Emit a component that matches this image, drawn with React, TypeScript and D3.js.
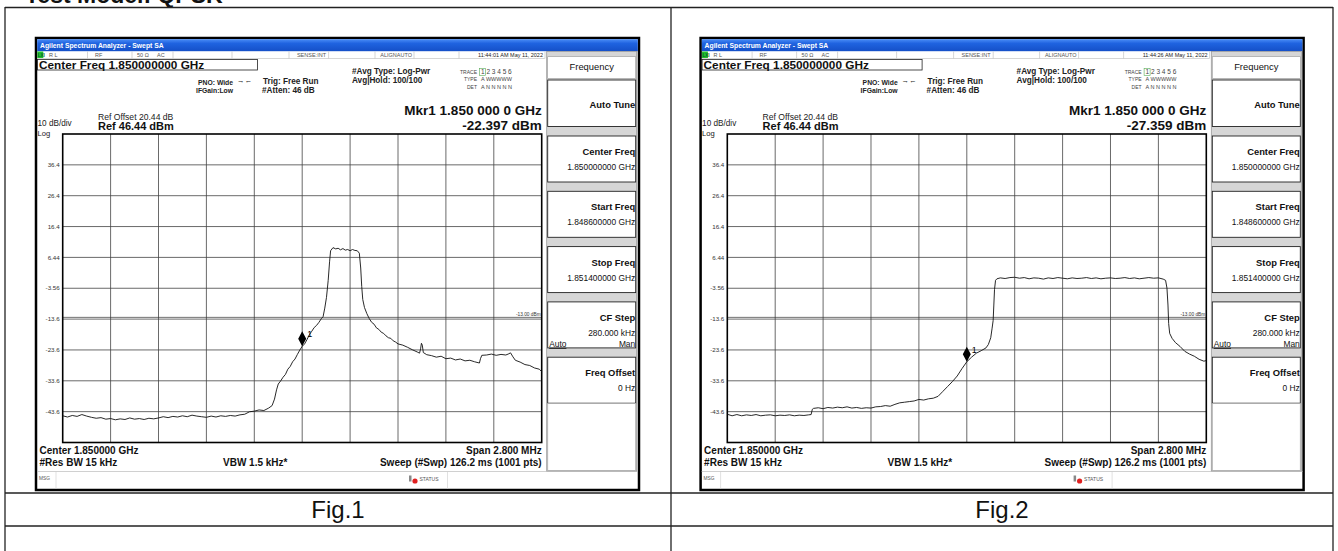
import React from 'react';
import * as d3 from 'd3';

const FONT = 'Liberation Sans, Arial, Helvetica, sans-serif';

// trace points: frequency offset from 1.850 GHz (kHz), level (dBm)
const fig1Trace: [number, number][] = [
  [-1400, -44.9], [-1372, -45.3], [-1344, -44.8], [-1316, -45.1], [-1288, -44.5], [-1260, -45.0],
  [-1232, -45.4], [-1204, -45.7], [-1176, -45.5], [-1148, -46.0], [-1120, -45.8], [-1092, -46.2],
  [-1064, -45.9], [-1036, -46.1], [-1008, -45.6], [-980, -46.0], [-952, -45.8], [-924, -46.1],
  [-896, -45.7], [-868, -45.9], [-840, -45.6], [-812, -45.2], [-784, -45.5], [-756, -45.1],
  [-728, -45.3], [-700, -44.9], [-672, -45.2], [-644, -44.7], [-616, -45.0], [-588, -45.2],
  [-560, -45.4], [-532, -45.0], [-504, -45.3], [-476, -44.9], [-448, -45.1], [-420, -44.8],
  [-392, -45.0], [-364, -44.6], [-336, -44.4], [-308, -43.6], [-280, -43.4], [-252, -43.0],
  [-224, -43.2], [-196, -42.4], [-176, -41.6], [-162, -39.5], [-150, -36.5], [-140, -34.6],
  [-126, -33.6], [-112, -32.4], [-98, -31.5], [-84, -29.8], [-70, -28.9], [-56, -27.4],
  [-42, -26.5], [-28, -25.0], [-14, -23.6], [0, -22.4], [14, -21.6], [28, -20.2], [42, -18.6],
  [56, -17.5], [70, -16.3], [84, -15.6], [98, -14.6], [112, -13.4], [122, -12.8], [132, -10.0],
  [142, -6.5], [152, -1.0], [160, 5.0], [166, 8.6], [180, 9.6], [196, 9.2], [210, 9.4],
  [224, 8.9], [238, 9.3], [252, 8.8], [266, 9.0], [280, 8.6], [294, 9.0], [308, 8.7],
  [322, 8.6], [334, 7.8], [342, 3.0], [348, -3.0], [354, -7.2], [364, -9.8], [378, -11.8],
  [392, -13.4], [406, -14.6], [420, -15.2], [434, -16.4], [448, -16.9], [462, -17.8],
  [476, -18.2], [490, -19.0], [504, -19.6], [518, -19.8], [532, -20.6], [546, -21.0],
  [560, -21.6], [588, -22.0], [616, -22.7], [644, -23.5], [672, -24.2], [686, -24.6],
  [692, -23.2], [697, -21.4], [702, -22.0], [708, -24.4], [728, -25.1], [756, -25.4],
  [784, -25.9], [812, -25.6], [840, -26.4], [868, -26.2], [896, -26.8], [924, -26.5],
  [952, -27.1], [980, -26.9], [1008, -27.4], [1036, -27.8], [1042, -26.4], [1050, -25.3],
  [1078, -25.2], [1106, -24.9], [1134, -25.3], [1162, -25.0], [1190, -25.2], [1204, -24.9],
  [1218, -24.5], [1232, -25.8], [1246, -26.9], [1274, -27.5], [1302, -28.3], [1330, -28.6],
  [1358, -29.4], [1386, -29.8], [1400, -30.6],
];

const fig2Trace: [number, number][] = [
  [-1400, -44.4], [-1372, -44.9], [-1344, -44.5], [-1316, -44.9], [-1288, -44.6], [-1260, -44.8],
  [-1232, -44.5], [-1204, -44.9], [-1176, -44.7], [-1148, -44.6], [-1120, -44.9], [-1092, -44.7],
  [-1064, -44.8], [-1036, -44.6], [-1008, -44.9], [-980, -44.7], [-952, -44.8], [-924, -44.6],
  [-910, -44.5], [-903, -42.8], [-896, -42.5], [-868, -42.3], [-840, -42.6], [-812, -42.2],
  [-784, -42.4], [-756, -42.1], [-728, -42.3], [-700, -42.0], [-672, -42.4], [-644, -42.2],
  [-616, -42.5], [-588, -42.3], [-560, -42.4], [-532, -42.0], [-504, -41.9], [-476, -41.6],
  [-448, -41.8], [-420, -41.2], [-392, -40.7], [-364, -40.5], [-336, -40.3], [-308, -40.1],
  [-280, -39.6], [-252, -39.8], [-224, -39.4], [-196, -39.2], [-168, -38.6], [-140, -37.0],
  [-112, -35.4], [-84, -33.8], [-56, -32.0], [-28, -29.6], [0, -27.4], [28, -25.9], [56, -24.6],
  [84, -23.8], [112, -22.9], [126, -21.8], [140, -19.6], [148, -16.5], [154, -14.0],
  [158, -9.0], [162, -4.0], [168, -1.0], [176, -0.5], [196, -0.2], [224, -0.4], [252, -0.1],
  [280, 0.0], [308, -0.3], [336, -0.1], [364, -0.5], [392, -0.2], [420, -0.3], [448, -0.6],
  [476, -0.2], [504, -0.4], [532, -0.1], [560, -0.3], [588, -0.5], [616, -0.2], [644, -0.4],
  [672, -0.3], [700, -0.1], [728, -0.4], [756, -0.2], [784, -0.5], [812, -0.3], [840, -0.2],
  [868, -0.4], [896, -0.3], [924, -0.1], [952, -0.4], [980, -0.2], [1008, -0.5], [1036, -0.3],
  [1064, -0.1], [1092, -0.3], [1120, -0.2], [1148, -0.6], [1162, -1.0], [1170, -3.5],
  [1176, -9.0], [1180, -15.0], [1186, -18.2], [1200, -19.8], [1220, -21.2], [1246, -22.4],
  [1274, -24.0], [1302, -24.9], [1330, -25.6], [1358, -26.6], [1386, -27.2], [1400, -27.0],
];

const markerLevels = [-22.397, -27.359];
const timeStamps = ['11:44:01 AM May 11, 2022', '11:44:26 AM May 11, 2022'];
const figLabels = ['Fig.1', 'Fig.2'];

const yTickValues = [36.44, 26.44, 16.44, 6.44, -3.56, -13.56, -23.56, -33.56, -43.56];
const yTickLabels = ['36.4', '26.4', '16.4', '6.44', '-3.56', '-13.6', '-23.6', '-33.6', '-43.6'];
const xDivisions = [-1400, -1120, -840, -560, -280, 0, 280, 560, 840, 1120, 1400];

const refLevel = 46.44;
const limitLevel = -13;

const softkeys = [
  { title: 'Center Freq', value: '1.850000000 GHz' },
  { title: 'Start Freq', value: '1.848600000 GHz' },
  { title: 'Stop Freq', value: '1.851400000 GHz' },
  { title: 'CF Step', value: '280.000 kHz' },
  { title: 'Freq Offset', value: '0 Hz' },
];

// window-local geometry
const W = 603;
const TOP = 38;
const BOTTOM = 490;
const GX0 = 26.7;
const GX1 = 505.7;
const GY0 = 134;
const GY1 = 442.5;
const PX0 = 510.7;
const PX1 = 600.7;

const Analyzer = ({ ox, trace, mkr, time, id }: { ox: number; trace: [number, number][]; mkr: number; time: string; id: string }) => {
  const x = d3.scaleLinear().domain([-1400, 1400]).range([GX0, GX1]);
  const y = d3.scaleLinear().domain([refLevel - 100, refLevel]).range([GY1, GY0]);
  const line = d3.line<[number, number]>().x((d) => x(d[0])).y((d) => y(d[1]));
  const mx = x(0);
  const my = y(mkr);
  const statusSeps = [51.5, 96, 137, 196, 253, 292.6, 339, 378, 423, 509];

  return (
    <g transform={`translate(${ox},0)`} fontFamily={FONT}>
      <defs>
        <linearGradient id={`tb${id}`} x1="0" y1="0" x2="0" y2="1">
          <stop offset="0" stopColor="#4a8cf6" />
          <stop offset="0.35" stopColor="#1f63e0" />
          <stop offset="1" stopColor="#1550c8" />
        </linearGradient>
      </defs>
      <rect x={0} y={TOP} width={W} height={BOTTOM - TOP} fill="#fff" stroke="#000" strokeWidth={2.5} />
      <rect x={1.2} y={TOP + 1.2} width={W - 2.4} height={12} fill={`url(#tb${id})`} />
      <text x={4} y={TOP + 10} fontSize={6.8} fontWeight="bold" fill="#fff">Agilent Spectrum Analyzer - Swept SA</text>

      {/* status row */}
      <line x1={1} x2={PX0 - 2} y1={58.5} y2={58.5} stroke="#bbb" strokeWidth={0.6} />
      {statusSeps.map((s) => (
        <line key={s} x1={s} x2={s} y1={51.5} y2={58.5} stroke="#bbb" strokeWidth={0.6} />
      ))}
      <rect x={1.3} y={51.5} width={6} height={6.5} fill="#22c02a" />
      <text x={1.8} y={57} fontSize={4.5} fontWeight="bold" fill="#063">LXI</text>
      <g fontSize={5.5} fill="#555">
        <text x={13} y={57}>R L</text>
        <text x={59} y={57}>RF</text>
        <text x={101} y={57}>50 Ω</text>
        <text x={121} y={57}>AC</text>
        <text x={290} y={57} textAnchor="end">SENSE:INT</text>
        <text x={376} y={57} textAnchor="end">ALIGNAUTO</text>
        <text x={507} y={57} textAnchor="end" fill="#222">{time}</text>
      </g>

      {/* header */}
      <rect x={1.5} y={59.5} width={220} height={10.5} fill="none" stroke="#222" strokeWidth={0.8} />
      <text x={3} y={68.5} fontSize={11.8} fontWeight="bold" fill="#111">Center Freq 1.850000000 GHz</text>
      <g fontSize={6.8} fontWeight="bold" fill="#222">
        <text x={162} y={85}>PNO: Wide</text>
        <text x={160} y={93}>IFGain:Low</text>
      </g>
      <text x={201} y={83} fontSize={7.5} fill="#222">→←</text>
      <g fontSize={8.2} fontWeight="bold" fill="#222">
        <text x={227} y={84}>Trig: Free Run</text>
        <text x={226} y={93}>#Atten: 46 dB</text>
        <text x={316} y={74}>#Avg Type: Log-Pwr</text>
        <text x={316} y={83}>Avg|Hold: 100/100</text>
      </g>
      <g fontSize={5} fill="#444">
        <text x={441} y={74} textAnchor="end">TRACE</text>
        <text x={441} y={81.3} textAnchor="end">TYPE</text>
        <text x={441} y={88.7} textAnchor="end">DET</text>
        <rect x={443.5} y={68.5} width={6} height={7} fill="none" stroke="#5a5" strokeWidth={0.6} />
        <text x={445} y={74} fontSize={6.5}>1 2 3 4 5 6</text>
        <text x={445} y={81.3} fontSize={5.5}>A WWWWW</text>
        <text x={445} y={88.7} fontSize={5.5}>A N N N N N</text>
      </g>
      <g fontWeight="bold" fill="#111" textAnchor="end">
        <text x={GX1} y={114.5} fontSize={13.5}>Mkr1 1.850 000 0 GHz</text>
        <text x={GX1} y={130} fontSize={13.5}>{`${mkr.toFixed(3)} dBm`}</text>
      </g>
      <text x={62} y={119.5} fontSize={8.6} fill="#222">Ref Offset 20.44 dB</text>
      <text x={62} y={130} fontSize={11} fontWeight="bold" fill="#111">Ref 46.44 dBm</text>
      <text x={1.5} y={126.3} fontSize={8.2} fill="#222">10 dB/div</text>
      <text x={1.5} y={135.6} fontSize={7.6} fill="#222">Log</text>

      {/* grid */}
      {xDivisions.slice(1, -1).map((f) => (
        <line key={f} x1={x(f)} x2={x(f)} y1={GY0} y2={GY1} stroke="#444" strokeWidth={0.8} />
      ))}
      {yTickValues.map((v) => (
        <line key={v} x1={GX0} x2={GX1} y1={y(v)} y2={y(v)} stroke="#444" strokeWidth={0.8} />
      ))}
      <line x1={GX0} x2={GX1} y1={y(limitLevel)} y2={y(limitLevel)} stroke="#333" strokeWidth={0.7} />
      <text x={GX1 - 1} y={y(limitLevel) - 1.2} fontSize={4.8} textAnchor="end" fill="#333">-13.00 dBm</text>
      {yTickValues.map((v, i) => (
        <text key={v} x={GX0 - 3} y={y(v) + 2.2} fontSize={6.2} textAnchor="end" fill="#333">{yTickLabels[i]}</text>
      ))}
      <rect x={GX0} y={GY0} width={GX1 - GX0} height={GY1 - GY0} fill="none" stroke="#000" strokeWidth={1.6} />
      <path d={line(trace) ?? ''} fill="none" stroke="#111" strokeWidth={0.9} strokeLinejoin="round" />
      <path d={`M${mx},${my} L${mx + 4},${my - 7.5} L${mx},${my - 15} L${mx - 4},${my - 7.5} Z`} fill="#000" />
      <text x={mx + 5} y={my - 9} fontSize={9} fill="#000">1</text>

      {/* footer */}
      <g fontSize={10} fontWeight="bold" fill="#111">
        <text x={3.5} y={453.5}>Center 1.850000 GHz</text>
        <text x={GX1} y={453.5} textAnchor="end">Span 2.800 MHz</text>
        <text x={3.5} y={466}>#Res BW 15 kHz</text>
        <text x={187} y={466}>VBW 1.5 kHz*</text>
        <text x={GX1} y={466} textAnchor="end">Sweep (#Swp)  126.2 ms (1001 pts)</text>
      </g>
      <line x1={1} x2={W - 1} y1={471.5} y2={471.5} stroke="#bbb" strokeWidth={0.7} />
      <line x1={20} x2={20} y1={471.5} y2={489} stroke="#ccc" strokeWidth={0.6} />
      <line x1={411.5} x2={411.5} y1={471.5} y2={489} stroke="#ccc" strokeWidth={0.6} />
      <text x={3} y={480} fontSize={4.8} fill="#555">MSG</text>
      <rect x={373} y={475.5} width={2.5} height={6} fill="#888" />
      <circle cx={379} cy={481} r={2.6} fill="#e02020" />
      <text x={383.5} y={481} fontSize={5} fill="#555">STATUS</text>

      {/* softkey panel */}
      <rect x={PX0} y={51.5} width={PX1 - PX0} height={419.5} fill="#d6d6d6" stroke="#999" strokeWidth={0.8} />
      <rect x={PX0 + 1} y={18.7 + TOP} width={PX1 - PX0 - 2} height={21.6} fill="#fff" stroke="#999" strokeWidth={0.6} />
      <text x={(PX0 + PX1) / 2} y={69.8} fontSize={9.4} textAnchor="middle" fill="#111">Frequency</text>
      <rect x={PX0 + 1} y={80} width={PX1 - PX0 - 2} height={46.5} fill="#fff" stroke="#222" strokeWidth={0.9} />
      <text x={PX1 - 1.5} y={108} fontSize={9.4} fontWeight="bold" textAnchor="end" fill="#111">Auto Tune</text>
      {softkeys.map((k, i) => {
        const top = 136 + i * 55.3;
        return (
          <g key={k.title}>
            <rect x={PX0 + 1} y={top} width={PX1 - PX0 - 2} height={46} fill="#fff" stroke="#222" strokeWidth={0.9} />
            <text x={PX1 - 1.5} y={top + 19} fontSize={9.4} fontWeight="bold" textAnchor="end" fill="#111">{k.title}</text>
            <text x={PX1 - 1.5} y={top + 34} fontSize={8.4} textAnchor="end" fill="#111">{k.value}</text>
            {k.title === 'CF Step' && (
              <>
                <text x={PX0 + 2.5} y={top + 45} fontSize={8.4} fill="#111" textDecoration="underline">Auto</text>
                <text x={PX1 - 1.5} y={top + 45} fontSize={8.4} textAnchor="end" fill="#111">Man</text>
              </>
            )}
          </g>
        );
      })}
      <rect x={PX0 + 1} y={403.5} width={PX1 - PX0 - 2} height={67} fill="#fff" stroke="#aaa" strokeWidth={0.8} />
    </g>
  );
};

export default function App() {
  const traces = [fig1Trace, fig2Trace];
  const offsets = [36, 700.6];
  const centers = [338, 1002];
  return (
    <div style={{ position: 'absolute', left: 0, top: 0 }}>
      <svg width={1338} height={551} style={{ display: 'block', background: '#fff' }}>
        <text x={25} y={3} fontFamily={FONT} fontSize={23} fontWeight="bold" fill="#111">Test Model: QPSK</text>
        <g stroke="#222" strokeWidth={1.3}>
          <line x1={5} x2={1333} y1={7.5} y2={7.5} />
          <line x1={5} x2={5} y1={7} y2={551} />
          <line x1={1333} x2={1333} y1={7} y2={551} />
          <line x1={671} x2={671} y1={7} y2={551} />
          <line x1={5} x2={1333} y1={493} y2={493} />
          <line x1={5} x2={1333} y1={526} y2={526} />
        </g>
        {traces.map((t, i) => (
          <Analyzer key={i} id={String(i)} ox={offsets[i]} trace={t} mkr={markerLevels[i]} time={timeStamps[i]} />
        ))}
        {figLabels.map((f, i) => (
          <text key={f} x={centers[i]} y={518} fontFamily={FONT} fontSize={24} textAnchor="middle" fill="#111">{f}</text>
        ))}
      </svg>
    </div>
  );
}
